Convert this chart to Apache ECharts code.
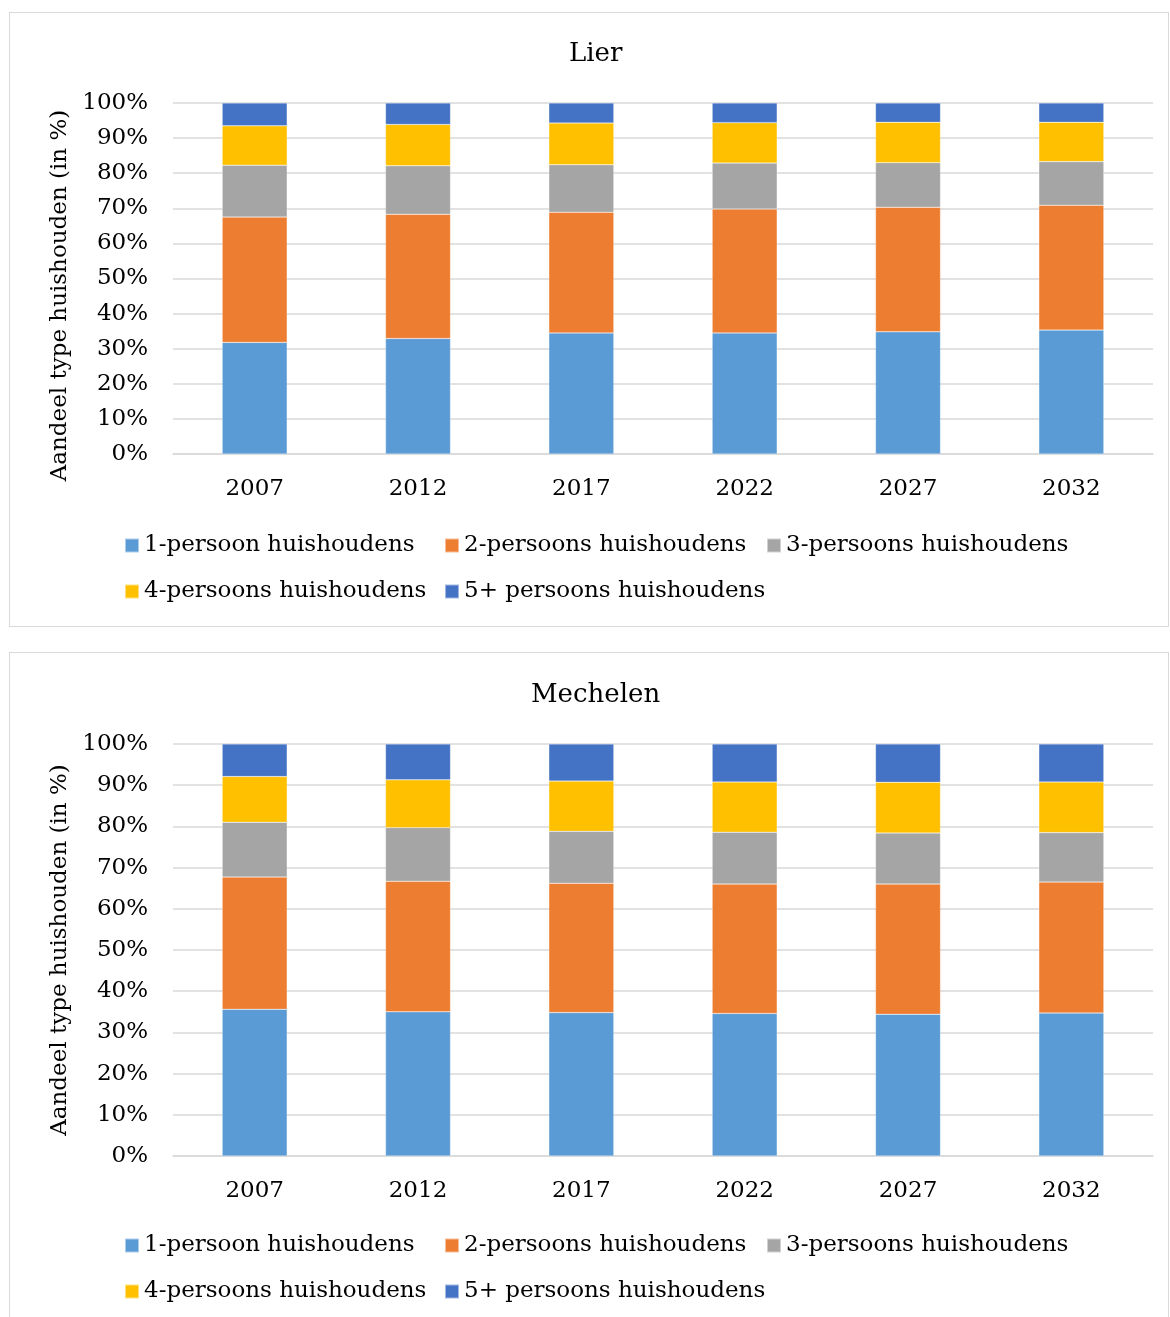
<!DOCTYPE html>
<html>
<head>
<meta charset="utf-8">
<script src="https://cdn.jsdelivr.net/npm/echarts@6/dist/echarts.min.js"></script>
<style>
  body { margin: 0; background: #fff; overflow: hidden; }
  .box { position: absolute; left: 9px; width: 1160px; border: 1px solid #d9d9d9; box-sizing: border-box; }
  #lier { top: 12px; height: 615px; }
  #mechelen { top: 652px; height: 680px; }
</style>
</head>
<body>
<div id="lier" class="box"></div>
<div id="mechelen" class="box"></div>
<script>
const years = ['2007', '2012', '2017', '2022', '2027', '2032']
const seriesNames = ['1-persoon huishoudens', '2-persoons huishoudens', '3-persoons huishoudens', '4-persoons huishoudens', '5+ persoons huishoudens']
const colors = ['#5b9bd5', '#ed7d31', '#a5a5a5', '#ffc000', '#4472c4']

// Lier (aandeel in %)
const lier1 = [31.8, 32.9, 34.5, 34.5, 34.8, 35.3]
const lier2 = [35.7, 35.4, 34.4, 35.3, 35.5, 35.6]
const lier3 = [14.8, 13.8, 13.5, 13.1, 12.7, 12.4]
const lier4 = [11.2, 11.8, 11.9, 11.5, 11.5, 11.2]
const lier5 = [6.5, 6.1, 5.7, 5.6, 5.5, 5.5]

// Mechelen (aandeel in %)
const mech1 = [35.6, 35.0, 34.8, 34.6, 34.4, 34.7]
const mech2 = [32.1, 31.7, 31.4, 31.4, 31.6, 31.8]
const mech3 = [13.3, 13.0, 12.6, 12.6, 12.4, 12.0]
const mech4 = [11.1, 11.6, 12.2, 12.2, 12.3, 12.3]
const mech5 = [7.9, 8.7, 9.0, 9.2, 9.3, 9.2]

const font = 'DejaVu Serif'

function makeOption (title, values, lay) {
  const txt = { fontFamily: font, fontSize: 23, color: '#000' }
  // legend laid out in columns like the Excel legend
  const legendCols = [114, 434, 756]
  const legends = seriesNames.map((name, i) => ({
    data: [name],
    left: legendCols[i % 3],
    top: lay.legendTop + (i < 3 ? 0 : 46),
    padding: 0,
    itemWidth: 14,
    itemHeight: 14,
    icon: 'rect',
    textStyle: txt
  }))
  return {
    color: colors,
    animation: false,
    title: {
      text: title,
      left: lay.titleLeft,
      top: lay.titleTop,
      padding: 0,
      textStyle: { fontFamily: font, fontSize: 26, fontWeight: 'normal', color: '#000' }
    },
    legend: legends,
    grid: {
      left: 163,
      right: 15,
      top: lay.gridTop,
      bottom: lay.gridBottom
    },
    xAxis: {
      type: 'category',
      data: years,
      axisTick: { show: false },
      axisLine: { lineStyle: { color: '#d9d9d9', width: 1.5 } },
      axisLabel: { ...txt, margin: 24 }
    },
    yAxis: {
      type: 'value',
      min: 0,
      max: 100,
      interval: 10,
      name: 'Aandeel type huishouden (in %)',
      nameLocation: 'middle',
      nameGap: 100,
      nameTextStyle: { ...txt, padding: [0, lay.nameShift, 0, 0] },
      axisLabel: { ...txt, formatter: '{value}%', margin: 25 },
      splitLine: { lineStyle: { color: '#d9d9d9', width: 1.5 } }
    },
    series: values.map((v, i) => ({
      name: seriesNames[i],
      type: 'bar',
      stack: 'totaal',
      barWidth: 65,
      data: v,
      itemStyle: { borderColor: 'rgba(255,255,255,0.5)', borderWidth: 0.5 }
    }))
  }
}

const lierChart = echarts.init(document.getElementById('lier'))
lierChart.setOption(makeOption('Lier', [lier1, lier2, lier3, lier4, lier5],
  { titleLeft: 559, titleTop: 28, legendTop: 521, gridTop: 90, gridBottom: 172, nameShift: 34 }))

const mechChart = echarts.init(document.getElementById('mechelen'))
mechChart.setOption(makeOption('Mechelen', [mech1, mech2, mech3, mech4, mech5],
  { titleLeft: 521, titleTop: 29, legendTop: 581, gridTop: 91, gridBottom: 175, nameShift: 0 }))

window.addEventListener('resize', function () {
  lierChart.resize()
  mechChart.resize()
})
</script>
</body>
</html>
